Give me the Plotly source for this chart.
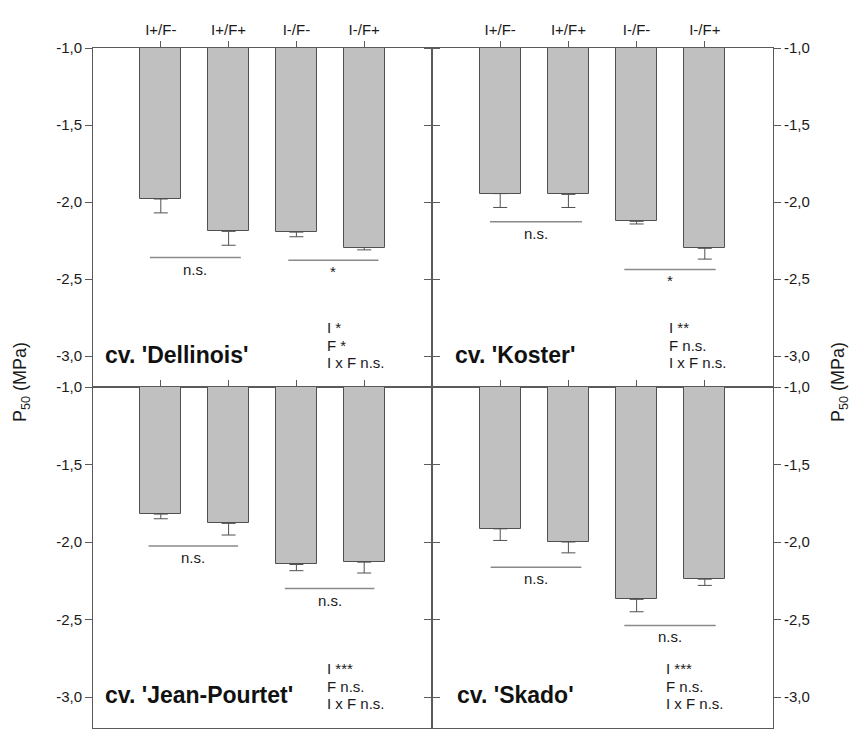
import plotly.graph_objects as go
from plotly.subplots import make_subplots

# ---------------- data ----------------
categories = ["I+/F-", "I+/F+", "I-/F-", "I-/F+"]

cultivars = ["cv. 'Dellinois'", "cv. 'Koster'", "cv. 'Jean-Pourtet'", "cv. 'Skado'"]

dellinois_p50 = [-1.98, -2.19, -2.195, -2.295]
dellinois_err = [0.09, 0.09, 0.03, 0.015]

koster_p50 = [-1.945, -1.95, -2.125, -2.30]
koster_err = [0.09, 0.085, 0.017, 0.07]

jean_pourtet_p50 = [-1.82, -1.88, -2.145, -2.13]
jean_pourtet_err = [0.03, 0.075, 0.04, 0.07]

skado_p50 = [-1.915, -2.0, -2.37, -2.24]
skado_err = [0.075, 0.07, 0.08, 0.04]

# significance brackets: (x start, x end, P50 level, label)
dellinois_sig = [(-0.16, 1.18, -2.36, "n.s."), (1.88, 3.21, -2.377, "*")]
koster_sig = [(-0.15, 1.20, -2.128, "n.s."), (1.82, 3.16, -2.437, "*")]
jean_pourtet_sig = [(-0.18, 1.14, -2.026, "n.s."), (1.83, 3.15, -2.30, "n.s.")]
skado_sig = [(-0.14, 1.19, -2.163, "n.s."), (1.82, 3.16, -2.538, "n.s.")]

# ANOVA summaries
dellinois_stats = ["I *", "F *", "I x F n.s."]
koster_stats = ["I **", "F n.s.", "I x F n.s."]
jean_pourtet_stats = ["I ***", "F n.s.", "I x F n.s."]
skado_stats = ["I ***", "F n.s.", "I x F n.s."]

y_tickvals = [-1.0, -1.5, -2.0, -2.5, -3.0]
y_ticktext = ["-1,0", "-1,5", "-2,0", "-2,5", "-3,0"]

# ---------------- figure ----------------
W, H = 852, 746
FONT = "Liberation Sans, Arial, sans-serif"
AX = "#5a5a5a"
BAR_FILL = "#c0c0c0"
BAR_LINE = "#505050"
SIG_LINE = "#8a8a8a"
TXT = "#1a1a1a"

fig = make_subplots(rows=2, cols=2, horizontal_spacing=0, vertical_spacing=0)

panels = [
    (1, 1, dellinois_p50, dellinois_err, dellinois_sig, dellinois_stats, cultivars[0], -0.85, 2.42),
    (1, 2, koster_p50, koster_err, koster_sig, koster_stats, cultivars[1], -0.69, 2.44),
    (2, 1, jean_pourtet_p50, jean_pourtet_err, jean_pourtet_sig, jean_pourtet_stats, cultivars[2], -0.85, 2.42),
    (2, 2, skado_p50, skado_err, skado_sig, skado_stats, cultivars[3], -0.66, 2.40),
]

x_dom = {1: [93 / W, 432 / W], 2: [432 / W, 773 / W]}
y_dom = {1: [1 - 387 / H, 1 - 48 / H], 2: [1 - 728 / H, 1 - 387 / H]}

shapes = []
annotations = []

for idx, (r, c, vals, errs, sigs, stats, name, label_x, stats_x) in enumerate(panels):
    n = idx + 1
    xref = "x" if n == 1 else f"x{n}"
    yref = "y" if n == 1 else f"y{n}"
    fig.add_trace(
        go.Bar(
            x=list(range(len(categories))),
            y=vals,
            width=0.6,
            marker=dict(color=BAR_FILL, line=dict(color=BAR_LINE, width=1)),
            error_y=dict(type="data", symmetric=False, array=[0] * len(errs),
                         arrayminus=errs, color=BAR_LINE, thickness=1, width=7),
            showlegend=False,
        ),
        row=r, col=c,
    )
    fig.update_xaxes(
        domain=x_dom[c], range=[-1, 4],
        tickvals=list(range(len(categories))), ticktext=categories,
        side="top", ticks="outside", ticklen=6, tickcolor=AX,
        showticklabels=(r == 1),
        tickfont=dict(family=FONT, size=15, color=TXT),
        showline=True, linecolor=AX, linewidth=1, mirror=True,
        showgrid=False, zeroline=False, automargin=False,
        row=r, col=c,
    )
    fig.update_yaxes(
        domain=y_dom[r], range=[-3.2, -1.0],
        tickvals=y_tickvals, ticktext=y_ticktext,
        side=("left" if c == 1 else "right"),
        ticks="outside", ticklen=7, tickcolor=AX,
        tickfont=dict(family=FONT, size=15, color=TXT),
        showline=True, linecolor=AX, linewidth=1, mirror="ticks",
        showgrid=False, zeroline=False, automargin=False,
        row=r, col=c,
    )
    for (x0, x1, yv, lab) in sigs:
        shapes.append(dict(type="line", xref=xref, yref=yref, x0=x0, x1=x1, y0=yv, y1=yv,
                           line=dict(color=SIG_LINE, width=1.5)))
        annotations.append(dict(xref=xref, yref=yref, x=(x0 + x1) / 2, y=yv, text=lab,
                                showarrow=False, xanchor="center", yanchor="top", yshift=-1,
                                font=dict(family=FONT, size=15, color=TXT)))
    annotations.append(dict(xref=xref, yref=yref, x=label_x, y=-2.99, text=f"<b>{name}</b>",
                            showarrow=False, xanchor="left", yanchor="middle",
                            font=dict(family=FONT, size=23, color="#111111")))
    for k, line in enumerate(stats):
        annotations.append(dict(xref=xref, yref=yref, x=stats_x, y=-2.93, text=line,
                                showarrow=False, xanchor="left", yanchor="middle", align="left",
                                yshift=17.5 * (1 - k),
                                font=dict(family=FONT, size=15, color=TXT)))

# y-axis titles (left and right)
for xp in (21 / W, 839 / W):
    annotations.append(dict(xref="paper", yref="paper", x=xp, y=1 - 382 / H,
                            text="P<sub>50</sub> (MPa)", textangle=-90, showarrow=False,
                            xanchor="center", yanchor="middle",
                            font=dict(family=FONT, size=18, color=TXT)))

fig.update_layout(
    width=W, height=H,
    margin=dict(l=0, r=0, t=0, b=0, autoexpand=False),
    paper_bgcolor="white", plot_bgcolor="white",
    shapes=shapes, annotations=annotations,
    bargap=0, showlegend=False,
)

fig.write_html(
    "out.html",
    config={"displayModeBar": False},
    post_script="document.body.style.margin='0px';document.body.style.overflow='hidden';",
)
